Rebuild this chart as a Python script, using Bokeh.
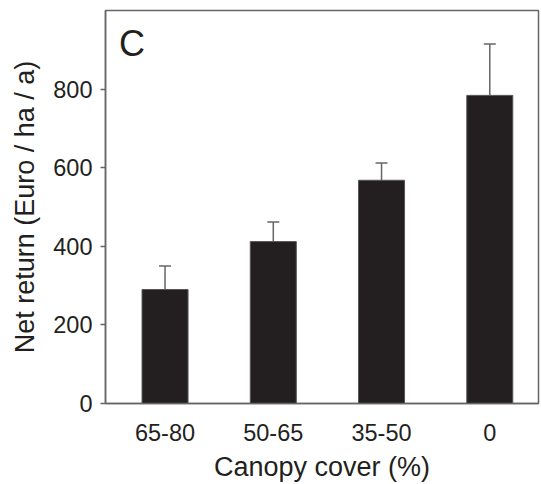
from bokeh.plotting import figure
from bokeh.models import Range1d, FixedTicker, ColumnDataSource, Whisker, TeeHead, Label
from bokeh.embed import file_html
from bokeh.resources import INLINE

# Data
categories = ["65-80", "50-65", "35-50", "0"]
net_return = [290, 412, 568, 784]
error_up = [60, 50, 44, 131]
y_ticks = [0, 200, 400, 600, 800]

xs = list(range(1, len(categories) + 1))
upper = [v + e for v, e in zip(net_return, error_up)]
src = ColumnDataSource(dict(x=xs, top=net_return, upper=upper, lower=net_return))

FONT = "Liberation Sans"
DARK = "#231f20"
GRAY = "#666666"

p = figure(width=541, height=484, output_backend="svg", toolbar_location=None,
           x_range=Range1d(0.45, 4.45), y_range=Range1d(0, 1000),
           min_border_left=105, min_border_right=3, min_border_top=10, min_border_bottom=79)

p.vbar(x="x", top="top", width=0.425, source=src, fill_color=DARK,
       line_color="#555555", line_width=1)

wh = Whisker(base="x", upper="upper", lower="lower", source=src, dimension="height",
             line_color=GRAY, line_width=1.5,
             upper_head=TeeHead(size=12, line_color=GRAY, line_width=1.5),
             lower_head=None)
p.add_layout(wh)

p.grid.visible = False
p.outline_line_color = GRAY
p.outline_line_width = 1.5
p.background_fill_color = "white"
p.border_fill_color = "white"

# y axis
ya = p.yaxis[0]
ya.ticker = FixedTicker(ticks=y_ticks)
ya.minor_tick_line_color = None
ya.major_tick_in = 0
ya.major_tick_out = 5
ya.axis_line_color = GRAY
ya.axis_line_width = 1.5
ya.major_tick_line_color = GRAY
ya.major_tick_line_width = 1.5
ya.major_label_text_font = FONT
ya.major_label_text_font_size = "23.5px"
ya.major_label_text_color = DARK
ya.major_label_standoff = 8
ya.axis_label = "Net return (Euro / ha / a)"
ya.axis_label_text_font = FONT
ya.axis_label_text_font_size = "27px"
ya.axis_label_text_font_style = "normal"
ya.axis_label_text_color = DARK
ya.axis_label_standoff = 10

# x axis
xa = p.xaxis[0]
xa.ticker = FixedTicker(ticks=xs)
xa.major_label_overrides = {x: c for x, c in zip(xs, categories)}
xa.minor_tick_line_color = None
xa.major_tick_line_color = None
xa.major_tick_in = 0
xa.major_tick_out = 0
xa.axis_line_color = GRAY
xa.axis_line_width = 1.5
xa.major_label_text_font = FONT
xa.major_label_text_font_size = "23.5px"
xa.major_label_text_color = DARK
xa.major_label_standoff = 20
xa.axis_label = "Canopy cover (%)"
xa.axis_label_text_font = FONT
xa.axis_label_text_font_size = "27px"
xa.axis_label_text_font_style = "normal"
xa.axis_label_text_color = DARK
xa.axis_label_standoff = 8

panel = Label(x=0.575, y=916, text="C", text_font=FONT, text_font_size="36px",
              text_color=DARK, text_baseline="alphabetic", text_align="left")
p.add_layout(panel)

open("out.html", "w").write(file_html(p, INLINE))
